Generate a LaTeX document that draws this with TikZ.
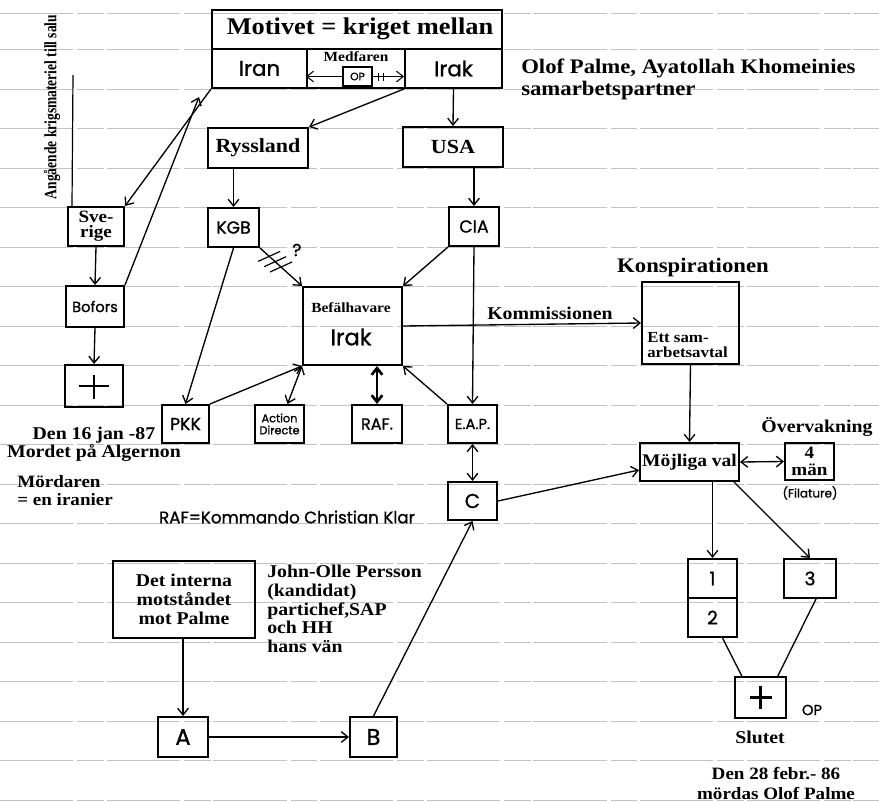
\documentclass[tikz,border=0pt]{standalone}
\usepackage{fontspec}
\setmainfont{Liberation Serif}[FakeStretch=1.1]
\newfontfamily\condserif{Liberation Serif}[FakeStretch=0.78]
\newfontfamily\hand{Poppins}[FakeBold=1]
\usetikzlibrary{arrows.meta,calc}
\newcommand\fz[2]{\fontsize{#1}{#2}\selectfont}
\begin{document}
\begin{tikzpicture}[x=0.75pt,y=-0.75pt,
 bx/.style 2 args={draw, line width=1.5pt, rectangle, inner sep=0pt, minimum width=#1*0.75pt, minimum height=#2*0.75pt},
 arr/.style={line width=1pt, -{Straight Barb[length=5pt,width=8pt]}},
 darr/.style={line width=1pt, {Straight Barb[length=5pt,width=8pt]}-{Straight Barb[length=5pt,width=8pt]}},
 ruled/.style={draw=black!24, line width=0.7pt, dash pattern=on 55pt off 3pt on 20pt off 2pt},
 hw/.style={font=\hand\fz{13}{13}},
 txt/.style={inner sep=0pt},
 crs/.style={line width=1.8pt}]
\useasboundingbox (0,0) rectangle (879,803);
% ruled paper
\foreach \yy in {13,49.5,89,128.5,168,207.5,247,286.5,326,365.5,405,444.5,484,523.5,563,602.5,642,681.5,721,760.5,800}
  \draw[ruled] (0,\yy) -- (879,\yy);
% top box
\node[bx={290}{78}] (top) at (357,49) {};
\node[txt, font=\bfseries\fz{18}{18}] (title) at (360,29) {Motivet = kriget mellan};
\node[bx={95}{39}, font=\hand\fz{16}{16}] (iran) at (259.5,68.5) {Iran};
\node[bx={98}{39}] (mid) at (356,68.5) {};
\node[bx={97}{39}, font=\hand\fz{16}{16}] (irak) at (453.5,68.5) {Irak};
\node[txt, font=\bfseries\fz{10.5}{10.5}] (medf) at (356,57) {Medfaren};
\node[bx={29}{19}, line width=1pt, font=\hand\fz{8}{8}] (op) at (357.5,76.5) {OP};
\draw[arr, line width=0.8pt] (op.west) -- (mid.west |- op.west);
\draw[arr, line width=0.8pt] (op.east) -- (irak.west |- op.east);
\foreach \dx in {6,11} \draw[line width=0.8pt] ($(op.east)+(\dx,-4)$) -- +(0,8);
% text top right
\node[txt, anchor=west, align=left, font=\bfseries\fz{15.5}{16.5}] (olof) at (521,79) {Olof Palme, Ayatollah Khomeinies\\samarbetspartner};
% left column
\node[txt, rotate=90, font=\condserif\bfseries\fz{13}{13}] (angl) at (52,107) {Angående krigsmateriel till salu};
\node[bx={56}{39}, font=\bfseries\fz{13}{11.5}, align=center] (sve) at (96,226.5) {Sve-\\rige};
\node[bx={58}{41}, font=\hand\fz{11}{11}] (bof) at (95,306.5) {Bofors};
\node[bx={58}{42}] (kors1) at (94,386) {};
\draw[crs] ($(kors1.center)+(0,-11)$) -- ($(kors1.center)+(0,13)$);
\draw[crs] ($(kors1.center)+(-15,0)$) -- ($(kors1.center)+(15,0)$);
\coordinate (anglend) at (73,75);
\coordinate (bofend) at (199,97);
\draw[line width=0.9pt] ([xshift=3.75pt]sve.north west) -- (anglend);
\draw[arr] (iran.south west) -- (sve.north east);
\draw[arr] (bof.north east) -- (bofend);
\draw[arr] (sve.south) -- (bof.north);
\draw[arr] (bof.south) -- (kors1.north);
\node[txt, align=center, font=\bfseries\fz{13.5}{13.5}] (den16) at (94,444) {Den 16 jan -87\\Mordet på Algernon};
\node[txt, anchor=west, align=left, font=\bfseries\fz{13}{13.5}] (mord) at (17,491) {Mördaren\\= en iranier};
% middle
\node[bx={100}{40}, font=\bfseries\fz{15}{15}] (ryss) at (258,148) {Ryssland};
\node[bx={100}{40}, font=\bfseries\fz{15}{15}] (usa) at (453,147) {USA};
\node[bx={51}{39}, hw] (kgb) at (233.5,227.5) {KGB};
\node[bx={50}{39}, hw] (cia) at (474,226.5) {CIA};
\node[bx={99}{78}] (bef) at (352.5,326) {};
\node[txt, font=\bfseries\fz{10.5}{10.5}] (beft) at (351,308) {Befälhavare};
\node[txt, font=\hand\fz{17}{17}] (befi) at (351,337) {Irak};
\node[bx={47}{38}, hw] (pkk) at (185.5,424) {PKK};
\node[bx={49}{38}, font=\hand\fz{8.5}{9}, align=center] (ad) at (279.5,424) {Action\\Directe};
\node[bx={50}{38}, font=\hand\fz{12}{12}] (raf) at (377,424) {RAF.};
\node[bx={49}{38}, font=\hand\fz{11}{11}] (eap) at (472.5,424) {E.A.P.};
\node[bx={49}{38}, font=\hand\fz{15}{15}] (c) at (472.5,501) {C};
\node[txt, font=\hand\fz{12.5}{12.5}] (rafk) at (287,517) {RAF=Kommando Christian Klar};
\node[txt, font=\hand\fz{13}{13}] (q) at (297,250) {?};
\draw[arr] (irak.south west) -- (ryss.north east);
\draw[arr] (irak.south) -- (usa.north);
\draw[arr] (kgb.north |- ryss.south) -- (kgb.north);
\draw[arr] (cia.north |- usa.south) -- (cia.north);
\draw[arr] (kgb.south east) -- (bef.north west);
\foreach \p in {0.22,0.36,0.5}
  \draw[line width=0.9pt] ($(kgb.south east)!\p!(bef.north west)+(-11,5)$) -- +(22,-10);
\draw[arr] (cia.south west) -- (bef.north east);
\draw[arr] (cia.south) -- (eap.north);
\draw[arr] (kgb.south) -- (pkk.north);
\draw[arr] (pkk.north east) -- (bef.south west);
\draw[darr] (bef.south west) -- ($(ad.north)+(8,0)$);
\draw[darr, line width=2pt] (raf.north) -- (raf.north |- bef.south);
\draw[arr] (eap.north west) -- (bef.south east);
\draw[darr] (eap.south) -- (c.north);
% right side
\node[txt, font=\bfseries\fz{15.5}{15.5}] (konspt) at (693,268) {Konspirationen};
\node[bx={97}{82}] (konsp) at (690.5,323) {};
\node[txt, anchor=west, align=left, font=\bfseries\fz{11.5}{11}] (avtal) at (647,345) {Ett sam-\\arbetsavtal};
\node[txt, font=\bfseries\fz{13.5}{13.5}] (komm) at (550,313) {Kommissionen};
\draw[arr] (bef.east) -- (konsp.west);
\node[bx={99}{38}, font=\bfseries\fz{13.3}{13}] (moj) at (689.5,462) {Möjliga val};
\node[bx={49}{37}, font=\bfseries\fz{13}{13}, align=center] (man) at (809.5,461.5) {4\\män};
\node[txt, font=\bfseries\fz{13.5}{13.5}] (overv) at (817,427) {Övervakning};
\node[txt, font=\hand\fz{9}{9}] (filat) at (810,493) {(Filature)};
\draw[arr] (konsp.south) -- (moj.north);
\draw[darr] (moj.east) -- (man.west);
\draw[arr] (c.east) -- ([yshift=-6pt]moj.west);
\node[bx={49}{39}, font=\hand\fz{14}{14}] (b1) at (712.5,578.5) {1};
\node[bx={49}{39}, font=\hand\fz{14}{14}] (b2) at (712.5,617.5) {2};
\node[bx={52}{39}, font=\hand\fz{14}{14}] (b3) at (810,578.5) {3};
\node[bx={51}{41}] (kors2) at (760.5,697.5) {};
\draw[crs] ($(kors2.center)+(0,-12)$) -- ($(kors2.center)+(0,11)$);
\draw[crs] ($(kors2.center)+(-11,0)$) -- ($(kors2.center)+(11,0)$);
\node[txt, font=\hand\fz{11}{11}] (opt) at (812,710) {OP};
\node[txt, font=\bfseries\fz{13.5}{13.5}] (slut) at (760,737) {Slutet};
\node[txt, align=center, font=\bfseries\fz{13}{15}] (den28) at (776,783) {Den 28 febr.- 86\\mördas Olof Palme};
\draw[arr] (b1.north |- moj.south) -- (b1.north);
\draw[arr] ([xshift=-4.5pt]moj.south east) -- (b3.north);
\draw[line width=1pt] ([xshift=7.5pt]b2.south) -- ([xshift=-14pt]kors2.north);
\draw[line width=1pt] ([xshift=4.5pt]b3.south) -- ([xshift=13pt]kors2.north);
% bottom left
\node[bx={142}{77}, font=\bfseries\fz{13.5}{14}, align=center] (det) at (184,599.5) {Det interna\\motståndet\\mot Palme};
\node[txt, anchor=west, align=left, font=\bfseries\fz{13.5}{14}] (john) at (267,609) {John-Olle Persson\\(kandidat)\\partichef,SAP\\och HH\\hans vän};
\node[bx={50}{40}, font=\hand\fz{17}{17}] (a) at (183,737) {A};
\node[bx={47}{40}, font=\hand\fz{17}{17}] (b) at (373.5,737) {B};
\draw[arr] (a.north |- det.south) -- (a.north);
\draw[arr] (a.east) -- (b.west);
\draw[arr] (b.north) -- (c.south);
\end{tikzpicture}
\end{document}
